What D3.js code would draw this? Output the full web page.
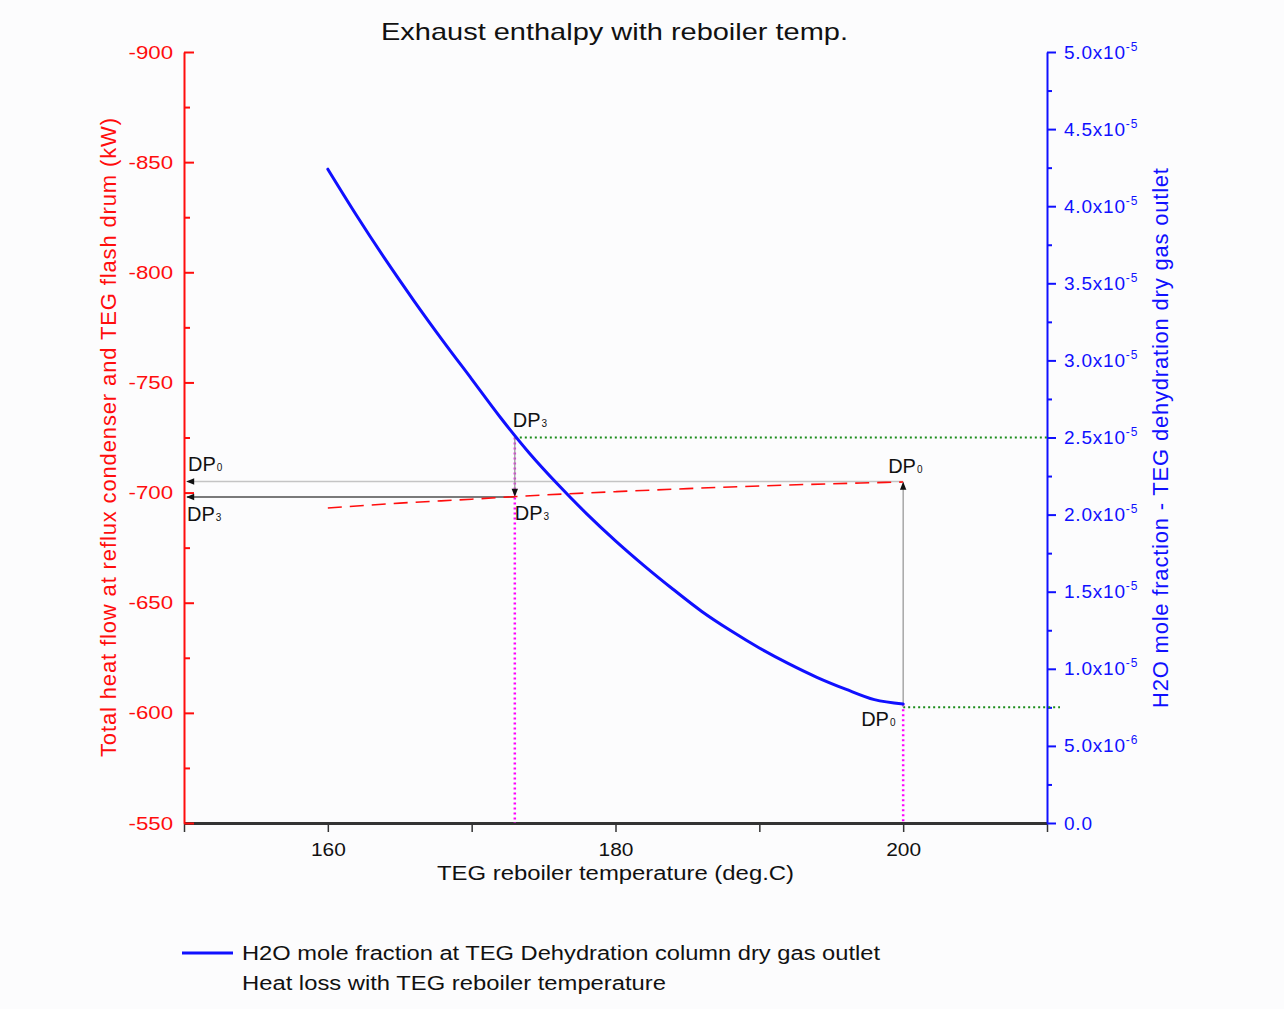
<!DOCTYPE html>
<html>
<head>
<meta charset="utf-8">
<script src="https://cdn.jsdelivr.net/npm/d3@7"></script>
<style>
  html, body { margin: 0; padding: 0; background: #fcfcfd; }
  svg { display: block; font-family: "Liberation Sans", Arial, sans-serif; }
</style>
</head>
<body>
<svg id="chart" width="1284" height="1009"></svg>
<script>
// Reboiler temperature (deg.C) and H2O mole fraction at the dry gas outlet
const temps = [160, 162, 164, 166, 168, 170, 172, 174, 176, 178, 180,
               182, 184, 186, 188, 190, 192, 194, 196, 198, 200];
const h2oFraction = [4.24e-5, 3.94e-5, 3.655e-5, 3.385e-5, 3.127e-5, 2.879e-5, 2.63e-5,
                     2.40e-5, 2.195e-5, 2.005e-5, 1.83e-5, 1.668e-5, 1.516e-5, 1.372e-5,
                     1.248e-5, 1.135e-5, 1.035e-5, 0.945e-5, 0.868e-5, 0.80e-5, 0.772e-5];

// Total heat flow at reflux condenser + flash drum (kW)
const heatTemps = [160, 165, 170, 175, 180, 185, 190, 195, 200];
const heatFlow = [-693.0, -695.2, -697.0, -698.9, -700.4, -701.8, -703.0, -704.0, -704.8];

// Design points
const dpTemps = [173, 200];
const dpFraction = [2.5e-5, 7.5e-6];
const dpHeat = [-698, -705];

// Axis ticks
const xTicks = [150, 160, 170, 180, 190, 200, 210];
const xLabelled = [160, 180, 200];
const leftMajor = [-900, -850, -800, -750, -700, -650, -600, -550];
const leftMinor = [-875, -825, -775, -725, -675, -625, -575];
const rightMajor = d3.range(0, 11).map(i => i * 5e-6);
const rightMinor = d3.range(0, 10).map(i => (i + 0.5) * 5e-6);

const svg = d3.select("#chart");
const plotLeft = 184, plotRight = 1047, plotTop = 52, plotBottom = 823;

const x = d3.scaleLinear().domain([150, 210]).range([plotLeft, plotRight]);
const yL = d3.scaleLinear().domain([-550, -900]).range([plotBottom, plotTop]);
const yR = d3.scaleLinear().domain([0, 5e-5]).range([plotBottom, plotTop]);

const RED = "#ff0d0d", BLUE = "#1010ff", DARK = "#111";
const FONT = "Liberation Sans, Arial, sans-serif";

// widen horizontal text glyphs a little (wide sans look)
function widen(sel, factor) {
  sel.each(function() {
    const w = this.getComputedTextLength();
    if (w > 0) d3.select(this).attr("textLength", w * factor).attr("lengthAdjust", "spacingAndGlyphs");
  });
}

// arrow head
svg.append("defs").append("marker")
  .attr("id", "arrow").attr("viewBox", "0 -5 10 10")
  .attr("refX", 9).attr("refY", 0)
  .attr("markerWidth", 10).attr("markerHeight", 8)
  .attr("markerUnits", "userSpaceOnUse").attr("orient", "auto")
  .append("path").attr("d", "M0,-4L10,0L0,4Z").attr("fill", DARK);

// title
svg.append("text").attr("x", 381).attr("y", 40)
  .attr("font-size", 24).attr("fill", DARK)
  .attr("textLength", 467).attr("lengthAdjust", "spacingAndGlyphs")
  .text("Exhaust enthalpy with reboiler temp.");

// bottom axis
const gx = svg.append("g").attr("transform", `translate(0,${plotBottom})`)
  .call(d3.axisBottom(x).tickValues(xTicks).tickSizeInner(9).tickSizeOuter(0).tickPadding(11)
    .tickFormat(d => xLabelled.includes(d) ? String(d) : ""));
gx.select(".domain").attr("stroke", "#333").attr("stroke-width", 3);
gx.selectAll(".tick line").attr("stroke", "#333").attr("stroke-width", 1.5);
gx.selectAll(".tick text").attr("font-size", 19).attr("fill", DARK).attr("font-family", FONT);
widen(gx.selectAll(".tick text"), 1.1);

// left axis (ticks pointing into the plot)
const gl = svg.append("g").attr("transform", `translate(${plotLeft},0)`)
  .call(d3.axisLeft(yL).tickValues(leftMajor).tickSizeInner(-10).tickSizeOuter(0).tickPadding(11)
    .tickFormat(d => String(d)));
gl.select(".domain").attr("stroke", RED).attr("stroke-width", 2);
gl.selectAll(".tick line").attr("stroke", RED).attr("stroke-width", 2);
gl.selectAll(".tick text").attr("font-size", 19).attr("fill", RED).attr("font-family", FONT);
widen(gl.selectAll(".tick text"), 1.17);
const glm = svg.append("g").attr("transform", `translate(${plotLeft},0)`)
  .call(d3.axisLeft(yL).tickValues(leftMinor).tickSizeInner(-6).tickSizeOuter(0).tickFormat(""));
glm.select(".domain").remove();
glm.selectAll(".tick line").attr("stroke", RED).attr("stroke-width", 2);

// right axis
function sciFormat(v) {
  if (v === 0) return { m: "0.0", e: null };
  const e = Math.floor(Math.log10(v) + 1e-9);
  return { m: (v / Math.pow(10, e)).toFixed(1) + "x10", e: String(e) };
}
const gr = svg.append("g").attr("transform", `translate(${plotRight},0)`)
  .call(d3.axisRight(yR).tickValues(rightMajor).tickSizeInner(9).tickSizeOuter(0).tickPadding(8)
    .tickFormat(""));
gr.select(".domain").attr("stroke", BLUE).attr("stroke-width", 2);
gr.selectAll(".tick line").attr("stroke", BLUE).attr("stroke-width", 2);
gr.selectAll(".tick text").each(function(d) {
  const f = sciFormat(d);
  const t = d3.select(this).attr("font-size", 19).attr("fill", BLUE)
    .attr("letter-spacing", 0.8).attr("font-family", FONT);
  t.append("tspan").text(f.m);
  if (f.e) t.append("tspan").attr("font-size", 12).attr("dy", -8).text(f.e);
});
const grm = svg.append("g").attr("transform", `translate(${plotRight},0)`)
  .call(d3.axisRight(yR).tickValues(rightMinor).tickSizeInner(5).tickSizeOuter(0).tickFormat(""));
grm.select(".domain").remove();
grm.selectAll(".tick line").attr("stroke", BLUE).attr("stroke-width", 2);

// axis titles
svg.append("text").attr("font-size", 20).attr("fill", DARK)
  .attr("x", 437).attr("y", 880)
  .attr("textLength", 357).attr("lengthAdjust", "spacingAndGlyphs")
  .text("TEG reboiler temperature (deg.C)");
svg.append("text").attr("font-size", 22).attr("fill", RED)
  .attr("transform", `translate(116,${(118 + 757) / 2}) rotate(-90)`)
  .attr("text-anchor", "middle").attr("textLength", 639)
  .text("Total heat flow at reflux condenser and TEG flash drum (kW)");
svg.append("text").attr("font-size", 22).attr("fill", BLUE)
  .attr("transform", `translate(1168,${(168 + 708) / 2}) rotate(-90)`)
  .attr("text-anchor", "middle").attr("textLength", 540)
  .text("H2O mole fraction - TEG dehydration dry gas outlet");

// guide lines from the design points
const [t3, t0] = dpTemps;
const [f3, f0] = dpFraction;
const [h3, h0] = dpHeat;
const guides = svg.append("g").attr("fill", "none");
guides.append("line").attr("x1", x(t3)).attr("x2", x(t3)).attr("y1", yR(f3)).attr("y2", plotBottom)
  .attr("stroke", "#ff00ff").attr("stroke-width", 2.5).attr("stroke-dasharray", "2,3");
guides.append("line").attr("x1", x(t0)).attr("x2", x(t0)).attr("y1", yR(f0) - 3).attr("y2", plotBottom)
  .attr("stroke", "#ff00ff").attr("stroke-width", 2.5).attr("stroke-dasharray", "2,3");
guides.append("line").attr("x1", x(t3)).attr("x2", plotRight).attr("y1", yR(f3)).attr("y2", yR(f3))
  .attr("stroke", "#1a8c1a").attr("stroke-width", 2).attr("stroke-dasharray", "2,3");
guides.append("line").attr("x1", x(t0)).attr("x2", plotRight + 13).attr("y1", yR(f0)).attr("y2", yR(f0))
  .attr("stroke", "#1a8c1a").attr("stroke-width", 2).attr("stroke-dasharray", "2,3");

// heat loss line (red dashed, left axis)
svg.append("path")
  .datum(heatTemps.map((t, i) => [t, heatFlow[i]]))
  .attr("fill", "none").attr("stroke", RED).attr("stroke-width", 1.6)
  .attr("stroke-dasharray", "14,8")
  .attr("d", d3.line().x(d => x(d[0])).y(d => yL(d[1])).curve(d3.curveMonotoneX));

// arrows to the heat-flow axis
guides.append("line").attr("x1", x(t0)).attr("x2", plotLeft + 3).attr("y1", yL(h0)).attr("y2", yL(h0))
  .attr("stroke", "#c4c4c4").attr("stroke-width", 1.6).attr("marker-end", "url(#arrow)");
guides.append("line").attr("x1", x(t3)).attr("x2", plotLeft + 3).attr("y1", yL(h3)).attr("y2", yL(h3))
  .attr("stroke", "#7a7a7a").attr("stroke-width", 2).attr("marker-end", "url(#arrow)");
guides.append("line").attr("x1", x(t0)).attr("x2", x(t0)).attr("y1", yR(f0)).attr("y2", yL(h0) + 1)
  .attr("stroke", "#9a9a9a").attr("stroke-width", 1.3).attr("marker-end", "url(#arrow)");
guides.append("line").attr("x1", x(t3)).attr("x2", x(t3)).attr("y1", yR(f3)).attr("y2", yL(h3) - 1)
  .attr("stroke", "#9a9a9a").attr("stroke-width", 1.3).attr("marker-end", "url(#arrow)");

// H2O mole fraction curve (blue, right axis)
svg.append("path")
  .datum(temps.map((t, i) => [t, h2oFraction[i]]))
  .attr("fill", "none").attr("stroke", BLUE).attr("stroke-width", 3)
  .attr("stroke-linecap", "round")
  .attr("d", d3.line().x(d => x(d[0])).y(d => yR(d[1])).curve(d3.curveMonotoneX));

// design point labels
function dpLabel(px, py, sub) {
  const t = svg.append("text").attr("x", px).attr("y", py)
    .attr("font-size", 20).attr("fill", DARK);
  t.append("tspan").text("DP");
  t.append("tspan").attr("font-size", 10).attr("dx", 1).text(sub);
}
dpLabel(plotLeft + 4, 471, "0");
dpLabel(plotLeft + 3, 521, "3");
dpLabel(x(t3) - 2, 427, "3");
dpLabel(x(t3), 520, "3");
dpLabel(x(t0) - 15, 473, "0");
dpLabel(x(t0) - 42, 726, "0");

// legend
svg.append("line").attr("x1", 182).attr("x2", 233).attr("y1", 953).attr("y2", 953)
  .attr("stroke", BLUE).attr("stroke-width", 3);
svg.append("text").attr("x", 242).attr("y", 960).attr("font-size", 20).attr("fill", DARK)
  .attr("textLength", 638).attr("lengthAdjust", "spacingAndGlyphs")
  .text("H2O mole fraction at TEG Dehydration column dry gas outlet");
svg.append("text").attr("x", 242).attr("y", 990).attr("font-size", 20).attr("fill", DARK)
  .attr("textLength", 424).attr("lengthAdjust", "spacingAndGlyphs")
  .text("Heat loss with TEG reboiler temperature");
</script>
</body>
</html>
